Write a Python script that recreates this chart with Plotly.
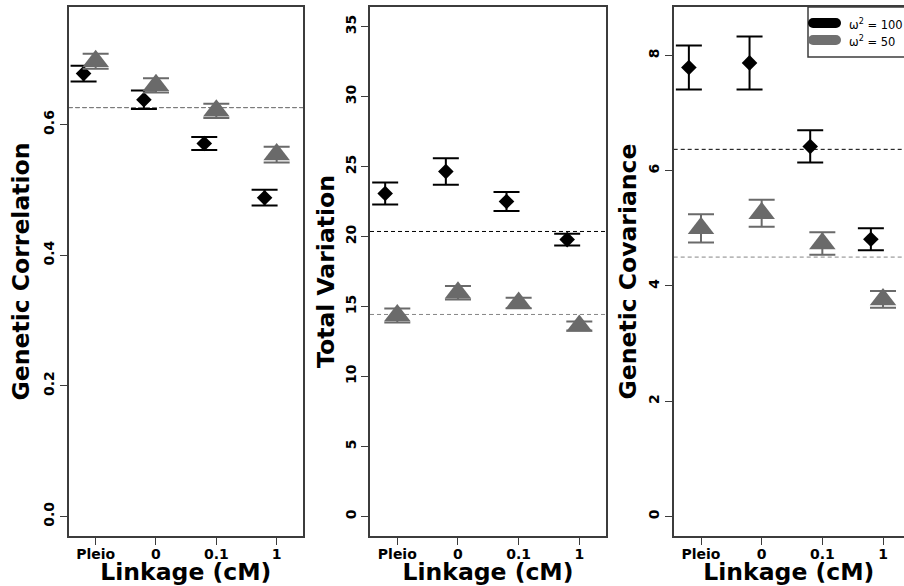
import plotly.graph_objects as go

# ---------------- data ----------------
categories = ["Pleio", "0", "0.1", "1"]
positions = [1, 2, 3, 4]

corr_w100 = [0.678, 0.638, 0.571, 0.488]
corr_w100_err = [0.012, 0.014, 0.010, 0.012]
corr_w50 = [0.697, 0.660, 0.621, 0.554]
corr_w50_err = [0.0115, 0.011, 0.011, 0.012]

totvar_w100 = [23.07, 24.65, 22.50, 19.78]
totvar_w100_err = [0.79, 0.95, 0.68, 0.42]
totvar_w50 = [14.36, 15.98, 15.25, 13.61]
totvar_w50_err = [0.50, 0.48, 0.37, 0.32]

cov_w100 = [7.79, 7.87, 6.42, 4.81]
cov_w100_err = [0.38, 0.46, 0.28, 0.19]
cov_w50 = [5.00, 5.26, 4.735, 3.765]
cov_w50_err = [0.245, 0.235, 0.195, 0.145]

mean_w100 = [0.626, 20.36, 6.37]
mean_w50 = [0.626, 14.43, 4.50]

y_titles = ["Genetic Correlation", "Total Variation", "Genetic Covariance"]
y_ticks = [[0.0, 0.2, 0.4, 0.6], [0, 5, 10, 15, 20, 25, 30, 35], [0, 2, 4, 6, 8]]
y_ticktext = [["0.0", "0.2", "0.4", "0.6"],
              ["0", "5", "10", "15", "20", "25", "30", "35"],
              ["0", "2", "4", "6", "8"]]
y_ranges = [[-0.03, 0.78], [-1.4, 36.4], [-0.34, 8.84]]
legend_labels = ["ω<sup>2</sup> = 100", "ω<sup>2</sup> = 50"]

# ---------------- style ----------------
W, H = 904, 586
BLACK = "#000000"
GREY = "#6a6a6a"
DASHGREY = "#858585"
AXC = "#3c3c3c"
FONT = "DejaVu Sans, Liberation Sans, Arial, sans-serif"
offset_w100 = -0.2
offset_w50 = 0.0

x_domains = [[68.5 / W, 303.2 / W], [370.0 / W, 606.0 / W], [673.7 / W, 1.0]]
x_ranges = [[0.55, 4.44], [0.55, 4.44], [0.55, 4.346]]
y_domain = [1 - 536 / H, 1 - 7 / H]
ytitle_standoff = [5, 1, 3]

fig = go.Figure()

panels = [
    (corr_w100, corr_w100_err, corr_w50, corr_w50_err),
    (totvar_w100, totvar_w100_err, totvar_w50, totvar_w50_err),
    (cov_w100, cov_w100_err, cov_w50, cov_w50_err),
]

for i, (a, ae, b, be) in enumerate(panels):
    xa = "x" if i == 0 else f"x{i+1}"
    ya = "y" if i == 0 else f"y{i+1}"
    fig.add_trace(go.Scatter(
        x=[p + offset_w100 for p in positions], y=a, xaxis=xa, yaxis=ya,
        mode="markers",
        marker=dict(symbol="diamond", size=12, color=BLACK, line=dict(width=0)),
        error_y=dict(type="data", array=ae, visible=True, color=BLACK, thickness=2, width=13),
        showlegend=False, hoverinfo="skip"))
    fig.add_trace(go.Scatter(
        x=[p + offset_w50 for p in positions], y=b, xaxis=xa, yaxis=ya,
        mode="markers",
        marker=dict(symbol="triangle-up", size=23, color=GREY, line=dict(width=0)),
        error_y=dict(type="data", array=be, visible=True, color=GREY, thickness=2, width=13),
        showlegend=False, hoverinfo="skip"))
    # mean lines
    fig.add_shape(type="line", xref=f"{xa} domain", yref=ya, x0=0, x1=1,
                  y0=mean_w100[i], y1=mean_w100[i],
                  line=dict(color=BLACK, width=1, dash="4px,3px"), layer="below")
    fig.add_shape(type="line", xref=f"{xa} domain", yref=ya, x0=0, x1=1,
                  y0=mean_w50[i], y1=mean_w50[i],
                  line=dict(color=DASHGREY, width=1, dash="4px,3px"), layer="below")

axis_common = dict(showgrid=False, zeroline=False, showline=True, linecolor=AXC,
                   linewidth=1.5, ticks="outside", ticklen=7, tickwidth=1.2,
                   tickcolor=AXC, automargin=False)

for i in range(3):
    xkey = "xaxis" if i == 0 else f"xaxis{i+1}"
    ykey = "yaxis" if i == 0 else f"yaxis{i+1}"
    ya = "y" if i == 0 else f"y{i+1}"
    xa = "x" if i == 0 else f"x{i+1}"
    fig.layout[xkey] = dict(
        axis_common, domain=x_domains[i], range=x_ranges[i], anchor=ya,
        mirror=True, tickmode="array", tickvals=positions, ticktext=categories,
        ticklabelstandoff=-3,
        tickfont=dict(family=FONT, size=14, color=BLACK, weight="bold"),
        title=dict(text="Linkage (cM)", standoff=0,
                   font=dict(family=FONT, size=23.5, color=BLACK, weight="bold")),
    )
    fig.layout[ykey] = dict(
        axis_common, domain=y_domain, range=y_ranges[i], anchor=xa,
        mirror=(i < 2), tickmode="array", tickvals=y_ticks[i], ticktext=y_ticktext[i],
        tickangle=-90,
        tickfont=dict(family=FONT, size=14, color=BLACK, weight="bold"),
        title=dict(text=y_titles[i], standoff=ytitle_standoff[i],
                   font=dict(family=FONT, size=23.5, color=BLACK, weight="bold")),
    )

# ---------------- legend (drawn manually, R-style box at top right) ----------------
def px(x):
    return x / W

def py(y):
    return 1 - y / H

fig.add_shape(type="rect", xref="paper", yref="paper",
              x0=px(808), x1=px(912), y0=py(57), y1=py(7),
              line=dict(color=AXC, width=1.5), fillcolor="white", layer="above")
for yy, col in [(23, BLACK), (40, "#707070")]:
    r = 5
    fig.add_shape(type="rect", xref="paper", yref="paper",
                  x0=px(813), x1=px(836), y0=py(yy + r), y1=py(yy - r),
                  line=dict(width=0), fillcolor=col, layer="above")
    for cx in (813, 836):
        fig.add_shape(type="circle", xref="paper", yref="paper",
                      x0=px(cx - r), x1=px(cx + r), y0=py(yy + r), y1=py(yy - r),
                      line=dict(width=0), fillcolor=col, layer="above")
for yy, lab in [(25, legend_labels[0]), (42, legend_labels[1])]:
    fig.add_annotation(xref="paper", yref="paper", x=px(847), y=py(yy),
                       text=lab, showarrow=False, xanchor="left", yanchor="middle",
                       font=dict(family=FONT, size=11.5, color=BLACK))

fig.update_layout(
    width=W, height=H, margin=dict(l=0, r=0, t=0, b=0),
    paper_bgcolor="white", plot_bgcolor="white", showlegend=False,
    font=dict(family=FONT, color=BLACK),
)

fig.write_html("out.html")
